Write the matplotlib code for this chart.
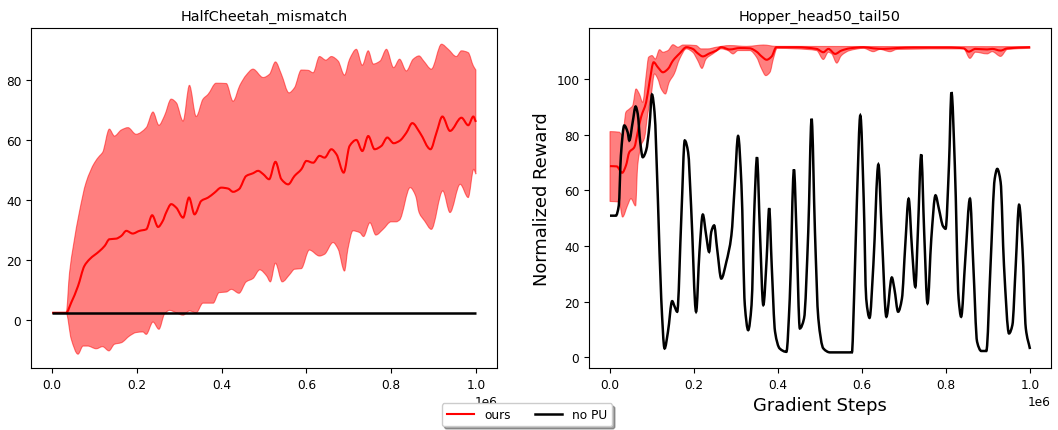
import numpy as np
import matplotlib
matplotlib.use("Agg")
import matplotlib.pyplot as plt
from matplotlib.path import Path
from matplotlib.patches import PathPatch
from matplotlib.lines import Line2D

STEPS = 1e6  # x values below are given in millions of gradient steps

# ---------------- HalfCheetah_mismatch ----------------
hc_mean_x = [0.0, 0.025, 0.033, 0.045, 0.061, 0.076, 0.088, 0.112, 0.124, 0.135, 0.151, 0.163,
             0.175, 0.19, 0.206, 0.222, 0.236, 0.25, 0.261, 0.269, 0.281, 0.293, 0.309, 0.323,
             0.336, 0.352, 0.368, 0.383, 0.399, 0.415, 0.427, 0.441, 0.458, 0.474, 0.486, 0.498,
             0.512, 0.527, 0.541, 0.557, 0.572, 0.588, 0.6, 0.616, 0.631, 0.643, 0.659, 0.671,
             0.688, 0.702, 0.718, 0.732, 0.746, 0.761, 0.777, 0.791, 0.806, 0.82, 0.836, 0.85,
             0.868, 0.893, 0.907, 0.921, 0.939, 0.966, 0.982, 0.994, 1.0]
hc_mean_y = [2.4, 2.4, 2.4, 5.8, 11.3, 18.0, 20.2, 23.0, 24.7, 26.9, 27.1, 28.0,
             29.7, 28.8, 29.7, 30.2, 34.9, 31.0, 33.0, 35.8, 38.6, 37.4, 34.1, 40.8,
             35.2, 39.7, 40.8, 42.4, 44.1, 43.8, 42.7, 43.6, 48.0, 48.9, 49.7, 48.6,
             46.9, 52.7, 46.9, 45.2, 48.0, 50.2, 53.0, 52.4, 54.7, 54.1, 56.9, 55.2,
             49.1, 58.0, 60.0, 56.3, 61.3, 56.9, 58.0, 60.8, 58.9, 59.7, 62.4, 65.6,
             62.4, 56.9, 62.4, 67.8, 63.0, 67.4, 64.9, 67.8, 66.0]

hc_upper_x = [0.0, 0.033, 0.041, 0.05, 0.064, 0.08, 0.1, 0.112, 0.119, 0.135, 0.147, 0.163,
              0.179, 0.198, 0.222, 0.238, 0.252, 0.265, 0.281, 0.293, 0.309, 0.324, 0.34,
              0.356, 0.368, 0.387, 0.411, 0.427, 0.443, 0.458, 0.474, 0.498, 0.513, 0.527,
              0.541, 0.559, 0.572, 0.588, 0.604, 0.616, 0.631, 0.646, 0.659, 0.675, 0.69,
              0.702, 0.718, 0.732, 0.746, 0.758, 0.774, 0.789, 0.806, 0.82, 0.836, 0.852,
              0.866, 0.877, 0.895, 0.919, 0.935, 0.954, 0.966, 0.982, 0.994, 1.0]
hc_upper_y = [2.4, 2.4, 15.8, 24.7, 35.8, 45.8, 52.4, 54.7, 55.8, 63.6, 61.3, 63.3,
              64.1, 61.9, 64.1, 69.3, 64.9, 68.0, 73.6, 72.4, 66.3, 78.2, 67.8,
              73.6, 75.2, 78.9, 78.8, 72.9, 78.2, 81.6, 83.6, 80.8, 81.9, 86.0,
              81.9, 75.7, 77.4, 83.3, 83.2, 82.4, 87.8, 86.6, 87.8, 86.3, 81.6,
              86.9, 90.2, 84.9, 89.7, 85.3, 86.3, 90.2, 84.1, 86.9, 83.0, 86.9,
              88.0, 86.3, 83.6, 91.9, 90.2, 87.8, 89.7, 89.1, 84.7, 83.3]

hc_lower_x = [0.0, 0.033, 0.045, 0.061, 0.073, 0.084, 0.104, 0.119, 0.134, 0.147, 0.163, 0.183,
              0.198, 0.214, 0.222, 0.238, 0.252, 0.265, 0.277, 0.293, 0.309, 0.324, 0.34,
              0.356, 0.38, 0.394, 0.411, 0.423, 0.441, 0.458, 0.474, 0.49, 0.506, 0.515,
              0.527, 0.543, 0.561, 0.572, 0.588, 0.607, 0.631, 0.643, 0.663, 0.675, 0.69,
              0.698, 0.71, 0.726, 0.735, 0.75, 0.764, 0.781, 0.8, 0.812, 0.82, 0.845,
              0.858, 0.866, 0.879, 0.895, 0.922, 0.939, 0.963, 0.982, 0.995, 1.0]
hc_lower_y = [2.4, 2.4, -6.4, -11.4, -8.7, -8.7, -9.6, -8.9, -10.3, -8.1, -7.6, -5.3,
              -4.2, -4.0, -4.8, -0.7, -3.1, 1.9, 3.2, 2.4, 1.6, 3.0, 2.4,
              5.6, 5.6, 9.1, 9.3, 10.2, 8.9, 12.7, 13.8, 16.7, 14.7, 12.7,
              18.9, 12.7, 15.2, 16.9, 17.1, 23.3, 21.3, 21.9, 25.8, 23.6, 16.3,
              23.6, 29.7, 29.1, 27.8, 32.4, 28.3, 30.2, 32.7, 32.7, 33.3, 44.1,
              41.3, 35.8, 33.0, 30.2, 43.0, 35.8, 45.2, 40.8, 50.2, 48.6]

hc_nopu_x = [0.0, 1.0]
hc_nopu_y = [2.3, 2.3]

# ---------------- Hopper_head50_tail50 ----------------
hp_mean_x = [0.0, 0.016, 0.029, 0.038, 0.046, 0.058, 0.066, 0.074, 0.086, 0.094, 0.104, 0.114,
             0.126, 0.138, 0.15, 0.166, 0.182, 0.197, 0.209, 0.221, 0.237, 0.253, 0.265,
             0.285, 0.309, 0.333, 0.349, 0.361, 0.373, 0.385, 0.396, 0.444, 0.492, 0.508,
             0.52, 0.536, 0.551, 0.571, 0.604, 0.627, 0.651, 0.683, 0.723, 0.803, 0.842,
             0.854, 0.87, 0.898, 0.91, 0.93, 0.946, 1.0]
hp_mean_y = [68.7, 68.6, 66.3, 68.9, 73.7, 75.5, 80.9, 86.3, 91.6, 98.8, 106.0, 104.2,
             102.4, 103.6, 106.6, 109.2, 111.4, 110.8, 109.2, 108.1, 109.2, 110.2, 111.4,
             110.6, 111.1, 111.0, 109.8, 108.1, 106.9, 108.1, 111.4, 111.4, 110.8, 109.6,
             110.8, 109.0, 110.2, 111.0, 111.4, 111.0, 110.8, 111.1, 111.3, 111.3, 111.0,
             109.8, 110.8, 110.6, 110.8, 110.2, 111.0, 111.4]

hp_upper_x = [0.0, 0.022, 0.03, 0.038, 0.046, 0.054, 0.062, 0.07, 0.078, 0.086, 0.092, 0.1,
              0.108, 0.118, 0.126, 0.138, 0.15, 0.162, 0.174, 0.205, 0.217, 0.233, 0.253,
              0.285, 0.325, 0.349, 0.365, 0.396, 1.0]
hp_upper_y = [81.1, 80.9, 79.7, 88.1, 89.2, 90.4, 96.4, 94.6, 91.6, 101.2, 107.8, 108.4,
              107.2, 110.5, 109.6, 110.2, 112.3, 111.4, 112.2, 112.0, 110.8, 110.8, 111.4,
              112.0, 111.7, 112.0, 112.2, 111.7, 111.6]

hp_lower_x = [0.0, 0.022, 0.03, 0.042, 0.05, 0.061, 0.066, 0.074, 0.082, 0.09, 0.098, 0.106,
              0.114, 0.122, 0.132, 0.141, 0.153, 0.166, 0.182, 0.197, 0.209, 0.219, 0.229,
              0.245, 0.265, 0.281, 0.293, 0.305, 0.333, 0.349, 0.361, 0.371, 0.381, 0.389,
              0.398, 0.444, 0.492, 0.508, 0.52, 0.528, 0.54, 0.551, 0.571, 0.604, 0.627,
              0.643, 0.667, 0.683, 0.842, 0.857, 0.87, 0.898, 0.91, 0.93, 0.946, 1.0]
hp_lower_y = [56.0, 55.8, 50.4, 54.6, 57.0, 54.4, 68.9, 76.1, 78.7, 87.5, 94.0, 101.8,
              100.0, 96.4, 94.6, 98.8, 101.8, 107.2, 110.8, 109.6, 106.6, 103.8, 107.2,
              109.0, 110.8, 110.2, 109.0, 110.2, 110.2, 107.8, 103.6, 101.2, 102.4, 107.2,
              111.0, 110.8, 110.2, 107.0, 109.6, 109.0, 105.7, 108.4, 110.2, 111.0, 109.8,
              110.6, 109.8, 110.6, 110.8, 107.4, 109.6, 109.0, 109.8, 108.1, 110.6, 111.0]

hp_nopu_x = [0.0, 0.014, 0.021, 0.026, 0.034, 0.042, 0.046, 0.054, 0.061, 0.066, 0.072, 0.078,
             0.086, 0.094, 0.1, 0.106, 0.114, 0.122, 0.13, 0.138, 0.148, 0.154, 0.16, 0.17,
             0.178, 0.186, 0.193, 0.205, 0.213, 0.221, 0.229, 0.236, 0.241, 0.248, 0.255,
             0.265, 0.277, 0.289, 0.297, 0.305, 0.313, 0.321, 0.329, 0.337, 0.344, 0.35,
             0.357, 0.365, 0.373, 0.379, 0.385, 0.393, 0.404, 0.42, 0.428, 0.438, 0.444,
             0.452, 0.462, 0.472, 0.48, 0.488, 0.496, 0.508, 0.524, 0.576, 0.581, 0.588,
             0.596, 0.604, 0.61, 0.618, 0.627, 0.639, 0.647, 0.658, 0.671, 0.677, 0.686,
             0.695, 0.703, 0.711, 0.719, 0.727, 0.733, 0.741, 0.748, 0.756, 0.765, 0.775,
             0.783, 0.793, 0.799, 0.807, 0.813, 0.821, 0.83, 0.836, 0.846, 0.857, 0.865,
             0.874, 0.884, 0.896, 0.906, 0.916, 0.922, 0.93, 0.938, 0.95, 0.958, 0.966,
             0.974, 0.982, 0.99, 1.0]
hp_nopu_y = [50.9, 50.9, 54.6, 72.5, 83.3, 80.9, 77.9, 84.5, 90.1, 87.5, 77.3, 71.9,
             74.3, 83.3, 94.4, 88.1, 57.0, 21.1, 3.2, 9.2, 20.2, 18.2, 16.4, 51.0,
             77.9, 73.7, 54.6, 16.4, 37.9, 51.3, 43.8, 37.9, 45.0, 47.4, 39.1,
             28.3, 34.3, 43.8, 61.8, 79.5, 61.8, 18.8, 9.8, 18.8, 54.6, 71.9,
             45.0, 18.8, 35.5, 53.6, 33.1, 9.2, 3.2, 2.0, 21.1, 67.5, 45.0,
             10.4, 14.0, 45.0, 85.7, 45.0, 14.0, 3.2, 1.8, 1.8, 21.1, 57.0,
             86.9, 57.0, 21.1, 14.2, 33.1, 69.3, 45.0, 14.6, 28.7, 24.7, 16.4,
             21.1, 40.3, 57.0, 39.1, 25.3, 45.0, 72.9, 45.0, 19.4, 42.7, 58.2,
             53.4, 47.1, 46.2, 68.9, 95.2, 68.9, 21.1, 14.6, 35.5, 57.0, 33.1,
             5.6, 2.3, 2.3, 33.1, 64.2, 67.7, 63.0, 33.1, 8.6, 11.6, 33.1,
             54.8, 39.1, 10.4, 3.0]

panels = [
    ("HalfCheetah_mismatch", hc_mean_x, hc_mean_y, hc_upper_x, hc_upper_y,
     hc_lower_x, hc_lower_y, hc_nopu_x, hc_nopu_y),
    ("Hopper_head50_tail50", hp_mean_x, hp_mean_y, hp_upper_x, hp_upper_y,
     hp_lower_x, hp_lower_y, hp_nopu_x, hp_nopu_y),
]


def monotone_slopes(x, y):
    """Shape-preserving (Fritsch-Carlson) slopes, so the curve never overshoots a point."""
    h = np.diff(x)
    d = np.diff(y) / h
    m = np.zeros_like(y)
    for i in range(1, len(y) - 1):
        if d[i - 1] * d[i] > 0:
            w1 = 2 * h[i] + h[i - 1]
            w2 = h[i] + 2 * h[i - 1]
            m[i] = (w1 + w2) / (w1 / d[i - 1] + w2 / d[i])
    m[0] = d[0]
    m[-1] = d[-1]
    return m


def curve_segments(x, y):
    """Start point, vertices and codes of a smooth curve through every (x, y) point."""
    x = np.asarray(x, float) * STEPS
    y = np.asarray(y, float)
    start = np.array([x[0], y[0]])
    if len(x) < 3:
        return start, np.column_stack([x[1:], y[1:]]), [Path.LINETO] * (len(x) - 1)
    m = monotone_slopes(x, y)
    verts = []
    for i in range(len(x) - 1):
        h = x[i + 1] - x[i]
        verts.append([x[i] + h / 3.0, y[i] + m[i] * h / 3.0])
        verts.append([x[i + 1] - h / 3.0, y[i + 1] - m[i + 1] * h / 3.0])
        verts.append([x[i + 1], y[i + 1]])
    return start, np.array(verts), [Path.CURVE4] * len(verts)


def curve_path(x, y):
    start, verts, codes = curve_segments(x, y)
    return Path(np.vstack([start, verts]), [Path.MOVETO] + codes)


def band_path(ux, uy, lx, ly):
    up_start, up_verts, up_codes = curve_segments(ux, uy)
    lo_start, lo_verts, lo_codes = curve_segments(lx, ly)
    # walk the lower edge backwards so the outline closes
    lo_all = np.vstack([lo_start, lo_verts])[::-1]
    verts = np.vstack([up_start, up_verts, lo_all, up_start])
    codes = ([Path.MOVETO] + up_codes + [Path.LINETO] + lo_codes[::-1]
             + [Path.CLOSEPOLY])
    return Path(verts, codes)


fig = plt.figure(figsize=(10.58, 4.31), dpi=100)
ax_left = fig.add_axes([0.0293, 0.1439, 0.4405, 0.7888])
ax_right = fig.add_axes([0.5567, 0.1439, 0.4367, 0.7888])

RED_LW = 1.5
BLACK_LW = 1.8

for ax, (title, mx, my, ux, uy, lx, ly, nx, ny) in zip([ax_left, ax_right], panels):
    ax.add_patch(PathPatch(band_path(ux, uy, lx, ly), facecolor="red", edgecolor="red",
                           alpha=0.5, linewidth=0.8))
    ax.add_patch(PathPatch(curve_path(mx, my), facecolor="none", edgecolor="red",
                           linewidth=RED_LW))
    ax.add_patch(PathPatch(curve_path(nx, ny), facecolor="none", edgecolor="black",
                           linewidth=BLACK_LW))
    ax.set_xlim(-0.05 * STEPS, 1.05 * STEPS)
    ax.set_title(title, fontsize=10.4)
    ax.tick_params(labelsize=8.7)
    ax.ticklabel_format(axis="x", style="sci", scilimits=(0, 0))
    ax.xaxis.get_offset_text().set_fontsize(8.7)

ax_right.set_ylabel("Normalized Reward", fontsize=12.9)
ax_right.set_xlabel("Gradient Steps", fontsize=12.9)
ax_left.set_ylim(-16, 97.3)
ax_right.set_ylim(-3.8, 118.3)

handles = [Line2D([], [], color="red", linewidth=RED_LW),
           Line2D([], [], color="black", linewidth=BLACK_LW)]
fig.legend(handles, ["ours", "no PU"], loc="lower center", bbox_to_anchor=(0.498, -0.005),
           ncol=2, shadow=True, fontsize=8.7, handlelength=2.3)

fig.savefig("out.png", dpi=100)
